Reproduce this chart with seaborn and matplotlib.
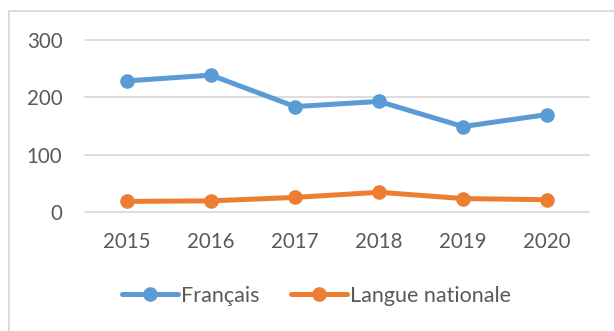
import matplotlib
matplotlib.use("Agg")
import matplotlib.pyplot as plt
from matplotlib.patches import Rectangle
import pandas as pd
import seaborn as sns

years = ["2015", "2016", "2017", "2018", "2019", "2020"]
francais = [229, 239, 184, 193, 149, 170]
langue_nationale = [18, 19, 25, 34, 23, 21]
series_names = ["Français", "Langue nationale"]
y_ticks = [0, 100, 200, 300]

df = pd.DataFrame({
    "Année": years * 2,
    "Valeur": francais + langue_nationale,
    "Série": [series_names[0]] * len(years) + [series_names[1]] * len(years),
})

sns.set_theme(style="white")
plt.rcParams["font.family"] = ["Lato", "DejaVu Sans"]

text_col = "#595959"
grid_col = "#D9D9D9"
palette = {series_names[0]: "#5B9BD5", series_names[1]: "#ED7D31"}

W, H = 614, 331
fig = plt.figure(figsize=(W / 100, H / 100), dpi=100)
ax = fig.add_axes([85 / W, 1 - 211.7 / H, 504 / W, (211.7 - 40.3) / H])

sns.lineplot(data=df, x="Année", y="Valeur", hue="Série", palette=palette,
             marker="o", markersize=10.5, linewidth=3.6, markeredgewidth=0,
             sort=False, ax=ax, legend=False)

ax.set_xlim(-0.5, len(years) - 0.5)
ax.set_ylim(0, 300)
ax.set_yticks(y_ticks)
ax.set_yticklabels([str(v) for v in y_ticks])
ax.set_xlabel("")
ax.set_ylabel("")
for s in ax.spines.values():
    s.set_visible(False)
ax.grid(axis="y", color=grid_col, linewidth=1.3)
ax.grid(axis="x", visible=False)
ax.set_axisbelow(True)
for line in ax.get_ygridlines():
    line.set_clip_on(False)
ax.tick_params(axis="y", length=0, pad=16.3, labelsize=14.8, labelcolor=text_col)
ax.tick_params(axis="x", length=0, pad=14.5, labelsize=14.8, labelcolor=text_col)

handles = [plt.Line2D([], [], color=palette[n], marker="o", markersize=10.5,
                      linewidth=3.6, markeredgewidth=0) for n in series_names]
leg = fig.legend(handles, series_names, loc="center",
                 bbox_to_anchor=(316.5 / W, 1 - 296 / H), ncol=2, frameon=False,
                 fontsize=15.5, handlelength=2.6, handletextpad=0.15,
                 columnspacing=1.45, numpoints=1)
for t in leg.get_texts():
    t.set_color(text_col)

fig.patches.append(Rectangle((9.3 / W, -0.1), 1.2, 1 - 11 / H + 0.1,
                             transform=fig.transFigure, fill=False,
                             edgecolor=grid_col, linewidth=1.3))

fig.savefig("out.png", dpi=100, facecolor="white")
